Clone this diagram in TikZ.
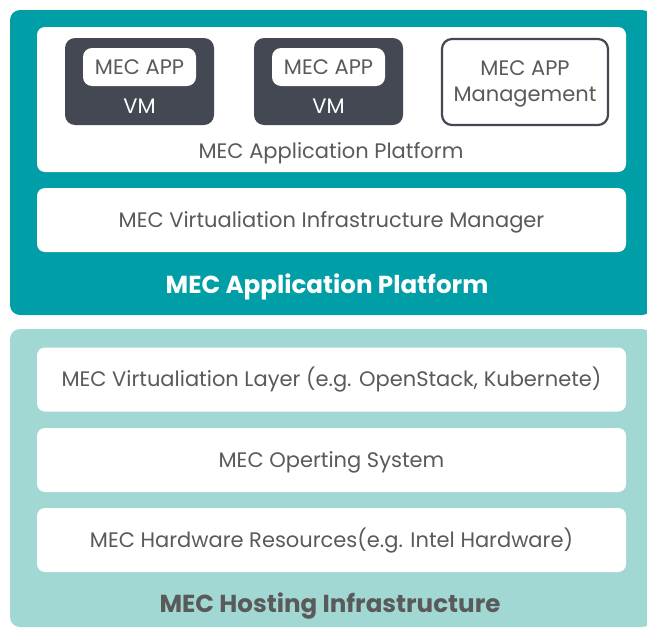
\documentclass[tikz,border=0pt]{standalone}
\usepackage{fontspec}
\setmainfont{Poppins}
\definecolor{tealA}{HTML}{009FA8}
\definecolor{tealB}{HTML}{A2D8D3}
\definecolor{vmgray}{HTML}{434852}
\definecolor{txtgray}{HTML}{5A5A5A}
\newcommand\mybodyfont{\fontsize{21}{24}\selectfont}
\newcommand\mytitlefont{\fontsize{24.6}{28}\selectfont\bfseries}
\begin{document}
\begin{tikzpicture}[x=1pt,y=-1pt,
  panel/.style={rounded corners=10pt, inner sep=0pt},
  layer/.style={fill=white, rounded corners=8pt, minimum width=589pt, minimum height=64pt,
    inner sep=0pt, text=txtgray, font=\mybodyfont, text height=14.7pt, text depth=0pt},
  vmbox/.style={fill=vmgray, rounded corners=10pt, minimum width=149pt, minimum height=87pt, inner sep=0pt},
  appbox/.style={fill=white, rounded corners=9pt, minimum width=113pt, minimum height=38pt,
    inner sep=0pt, text=txtgray, font=\mybodyfont, text height=14.7pt, text depth=0pt},
  vmtext/.style={text=white, font=\mybodyfont, inner sep=0pt, anchor=base},
  plain/.style={text=txtgray, font=\mybodyfont, inner sep=0pt, anchor=base},
  title/.style={font=\mytitlefont, inner sep=0pt, anchor=base}]
\useasboundingbox (0,0) rectangle (647,629);
\begin{scope}
\clip (0,0) rectangle (647,629);
\node[panel, fill=tealA, minimum width=642pt, minimum height=305pt] (apppanel) at (331,162.5) {};
\node[panel, fill=tealB, minimum width=642pt, minimum height=298pt] (hostpanel) at (331,478) {};
\end{scope}
% application platform
\node[layer, minimum height=145pt] (platform) at (331.5,99.5) {};
\node[plain] (platformlabel) at (331,158) {MEC Application Platform};
\node[vmbox] (vm1) at (139.5,81.5) {};
\node[appbox] (app1) at (139.5,67) {MEC APP};
\node[vmtext] (vm1label) at (139.5,113) {VM};
\node[vmbox] (vm2) at (328.5,81.5) {};
\node[appbox] (app2) at (328.5,67) {MEC APP};
\node[vmtext] (vm2label) at (328.5,113) {VM};
\node[draw=vmgray, line width=2.2pt, rounded corners=10pt, fill=white,
  minimum width=166pt, minimum height=86pt, inner sep=0pt] (mgmt) at (525,82) {};
\node[plain] (mgmt1) at (525,75) {MEC APP};
\node[plain] (mgmt2) at (525,101) {Management};
\node[layer] (vim) at (331.5,220) {MEC Virtualiation Infrastructure Manager};
\node[title, text=white] (apptitle) at (327,293) {MEC Application Platform};
% hosting infrastructure
\node[layer] (virt) at (331.5,379.5) {MEC Virtualiation Layer (e.g. OpenStack, Kubernete)};
\node[layer] (os) at (331.5,460) {MEC Operting System};
\node[layer] (hw) at (331.5,540) {MEC Hardware Resources(e.g. Intel Hardware)};
\node[title, text=txtgray] (hosttitle) at (330,612) {MEC Hosting Infrastructure};
\end{tikzpicture}
\end{document}
